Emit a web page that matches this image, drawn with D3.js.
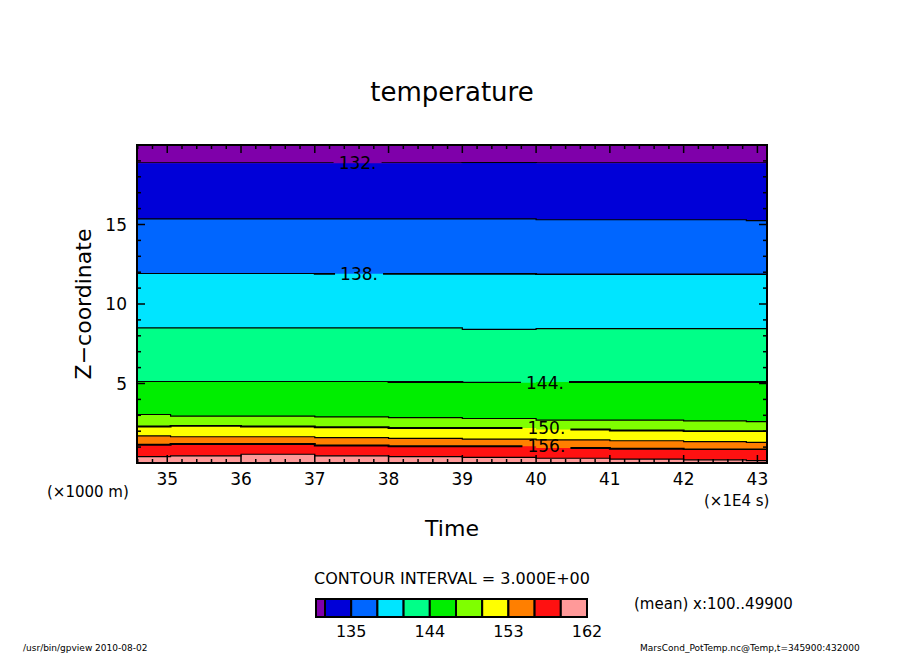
<!DOCTYPE html>
<html>
<head>
<meta charset="utf-8">
<script src="https://cdn.jsdelivr.net/npm/d3@7"></script>
<style>
body { margin: 0; background: #fff; }
text { font-family: "DejaVu Sans", sans-serif; fill: #000; }
</style>
</head>
<body>
<div id="chart"></div>
<script>
// time samples (x1E4 s)
var times = [34.59, 35.5, 36.5, 37.5, 38.5, 39.5, 40.5, 41.5, 42.5, 43.2];
// contour levels and their heights (km) at each time sample
var levels = [132, 135, 138, 141, 144, 147, 150, 153, 156, 159];
var heights = [
  [18.85, 18.85, 18.85, 18.85, 18.85, 18.9, 18.85, 18.85, 18.85, 18.85],
  [15.35, 15.35, 15.35, 15.35, 15.35, 15.35, 15.3, 15.3, 15.3, 15.25],
  [11.95, 11.95, 11.95, 11.9, 11.9, 11.9, 11.85, 11.85, 11.85, 11.85],
  [8.5, 8.5, 8.5, 8.5, 8.5, 8.4, 8.45, 8.45, 8.45, 8.45],
  [5.15, 5.15, 5.15, 5.15, 5.1, 5.05, 5.1, 5.1, 5.1, 5.1],
  [3.05, 2.95, 2.95, 2.9, 2.85, 2.8, 2.7, 2.7, 2.65, 2.6],
  [2.3, 2.35, 2.3, 2.25, 2.2, 2.2, 2.1, 2.05, 2.0, 2.0],
  [1.7, 1.65, 1.65, 1.6, 1.55, 1.5, 1.45, 1.4, 1.35, 1.3],
  [1.15, 1.2, 1.2, 1.1, 1.05, 1.05, 0.95, 0.9, 0.85, 0.85],
  [0.4, 0.45, 0.55, 0.45, 0.4, 0.35, 0.3, 0.25, 0.2, 0.15]
];
var colors = ["#7f00aa", "#0000d8", "#0066ff", "#00e5ff", "#00ff88", "#00ee00",
              "#7fff00", "#ffff00", "#ff7f00", "#ff1111", "#ff9999"];
var labelled = [132, 138, 144, 150, 156];
var labelX = {132: 37.58, 138: 37.6, 144: 40.12, 150: 40.14, 156: 40.14};
var xTicks = [35, 36, 37, 38, 39, 40, 41, 42, 43];
var yTicks = [5, 10, 15];
var legendLabels = [135, 144, 153, 162];

var W = 904, H = 654;
var svg = d3.select("#chart").append("svg").attr("width", W).attr("height", H);

var x = d3.scaleLinear().domain([34.59, 43.13]).range([137, 767]);
var y = d3.scaleLinear().domain([0, 20]).range([463, 145]);

// fill bands: band i is between contour i-1 and contour i
svg.append("clipPath").attr("id", "clip").append("rect")
  .attr("x", 137).attr("y", 145).attr("width", 630).attr("height", 318);
var g = svg.append("g").attr("clip-path", "url(#clip)");

g.append("rect").attr("x", 137).attr("y", 145).attr("width", 630).attr("height", 318)
  .attr("fill", colors[0]);
for (var i = 0; i < levels.length; i++) {
  var area = d3.area()
    .x(function(d, j) { return x(times[j]); })
    .y0(y(0))
    .y1(function(d) { return y(d); })
    .curve(d3.curveStep);
  g.append("path").datum(heights[i]).attr("d", area).attr("fill", colors[i + 1]);
}

// contour lines, with gaps for labels
var line = d3.line()
  .x(function(d, j) { return x(times[j]); })
  .y(function(d) { return y(d); })
  .curve(d3.curveStep);
var masks = svg.append("defs");
levels.forEach(function(lv, i) {
  var isLab = labelled.indexOf(lv) >= 0;
  var w = isLab ? 2 : 1.2;
  var p = g.append("path").datum(heights[i]).attr("d", line)
    .attr("fill", "none").attr("stroke", "#000").attr("stroke-width", w);
  if (isLab) {
    var lx = x(labelX[lv]);
    var m = masks.append("mask").attr("id", "m" + lv);
    m.append("rect").attr("x", 0).attr("y", 0).attr("width", W).attr("height", H).attr("fill", "#fff");
    m.append("rect").attr("x", lx - 24).attr("y", 0).attr("width", 48).attr("height", H).attr("fill", "#000");
    p.attr("mask", "url(#m" + lv + ")");
    var j = d3.bisectLeft(times, labelX[lv]) - 1;
    svg.append("text").attr("x", lx).attr("y", y(heights[i][j]) + 6)
      .attr("text-anchor", "middle").style("font-size", "17px").text(lv + ".");
  }
});

// frame and ticks
svg.append("rect").attr("x", 137).attr("y", 145).attr("width", 630).attr("height", 318)
  .attr("fill", "none").attr("stroke", "#000").attr("stroke-width", 2);
var minorX = d3.range(34.6, 43.15, 0.2);
minorX.forEach(function(t) {
  var major = Math.abs(t - Math.round(t)) < 0.01;
  var len = major ? 8 : 4;
  svg.append("line").attr("x1", x(t)).attr("x2", x(t)).attr("y1", 463).attr("y2", 463 - len)
    .attr("stroke", "#000").attr("stroke-width", 1.5);
  svg.append("line").attr("x1", x(t)).attr("x2", x(t)).attr("y1", 145).attr("y2", 145 + len)
    .attr("stroke", "#000").attr("stroke-width", 1.5);
});
d3.range(1, 20).forEach(function(v) {
  var len = v % 5 === 0 ? 8 : 4;
  svg.append("line").attr("x1", 137).attr("x2", 137 + len).attr("y1", y(v)).attr("y2", y(v))
    .attr("stroke", "#000").attr("stroke-width", 1.5);
  svg.append("line").attr("x1", 767).attr("x2", 767 - len).attr("y1", y(v)).attr("y2", y(v))
    .attr("stroke", "#000").attr("stroke-width", 1.5);
});
xTicks.forEach(function(t) {
  svg.append("text").attr("x", x(t)).attr("y", 485).attr("text-anchor", "middle")
    .style("font-size", "17px").text(t);
});
yTicks.forEach(function(t) {
  svg.append("text").attr("x", 127).attr("y", y(t) + 6).attr("text-anchor", "end")
    .style("font-size", "17px").text(t);
});

// titles
svg.append("text").attr("x", 452).attr("y", 101).attr("text-anchor", "middle")
  .style("font-size", "26px").text("temperature");
svg.append("text").attr("x", 452).attr("y", 536).attr("text-anchor", "middle")
  .style("font-size", "22px").text("Time");
svg.append("text").attr("transform", "translate(91,304)rotate(-90)").attr("text-anchor", "middle")
  .style("font-size", "22px").text("Z\u2212coordinate");
svg.append("text").attr("x", 47).attr("y", 497).style("font-size", "15px").text("(\u00d71000 m)");
svg.append("text").attr("x", 704).attr("y", 506).style("font-size", "15px").text("(\u00d71E4 s)");

// legend
svg.append("text").attr("x", 452).attr("y", 584).attr("text-anchor", "middle")
  .style("font-size", "16px").text("CONTOUR INTERVAL = 3.000E+00");
var lx = d3.scaleLinear().domain([132, 162]).range([325, 587]);
svg.append("rect").attr("x", 316).attr("y", 599).attr("width", lx(132) - 316).attr("height", 18)
  .attr("fill", colors[0]).attr("stroke", "#000").attr("stroke-width", 2);
for (var k = 0; k < 10; k++) {
  svg.append("rect").attr("x", lx(132 + 3 * k)).attr("y", 599)
    .attr("width", lx(135) - lx(132)).attr("height", 18)
    .attr("fill", colors[k + 1]).attr("stroke", "#000").attr("stroke-width", 2);
}
legendLabels.forEach(function(v) {
  svg.append("text").attr("x", lx(v)).attr("y", 637).attr("text-anchor", "middle")
    .style("font-size", "16px").text(v);
});
svg.append("text").attr("x", 634).attr("y", 609).style("font-size", "15px").text("(mean) x:100..49900");
svg.append("text").attr("x", 23).attr("y", 651).style("font-size", "9px").text("/usr/bin/gpview   2010-08-02");
svg.append("text").attr("x", 640).attr("y", 651).style("font-size", "9px").text("MarsCond_PotTemp.nc@Temp,t=345900:432000");
</script>
</body>
</html>
